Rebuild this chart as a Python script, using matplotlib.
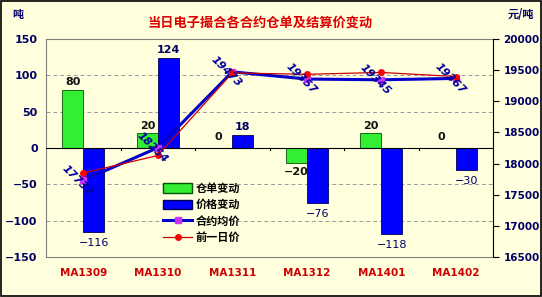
import matplotlib
matplotlib.use("Agg")
import matplotlib.pyplot as plt
import numpy as np
from matplotlib.patches import Patch
from matplotlib.lines import Line2D

plt.rcParams['font.family'] = ['DejaVu Sans', 'Noto Sans CJK SC']

categories = ["MA1309", "MA1310", "MA1311", "MA1312", "MA1401", "MA1402"]
warrant_change = [80, 20, 0, -20, 20, 0]
price_change = [-116, 124, 18, -76, -118, -30]
avg_price = [17732, 18254, 19473, 19357, 19345, 19367]
prev_price = [17848, 18130, 19455, 19433, 19463, 19397]

BG = '#FFFFDD'
NAVY = '#000066'

fig = plt.figure(figsize=(5.42, 2.97), dpi=100, facecolor=BG)
fig.patches.append(plt.Rectangle((0.001, 0.002), 0.997, 0.995, transform=fig.transFigure,
                                 fill=False, edgecolor='black', linewidth=1.2))
ax = fig.add_axes([0.0849, 0.1347, 0.9096 - 0.0849, 0.8687 - 0.1347])
ax.set_facecolor(BG)
x = np.arange(len(categories))
w = 0.28

gb = ax.bar(x - w / 2, warrant_change, w, color='#33EE33', edgecolor='#005500', linewidth=0.6, zorder=3)
bb = ax.bar(x + w / 2, price_change, w, color='#0000FF', edgecolor='#000055', linewidth=0.6, zorder=3)

ax.set_xlim(-0.5, len(categories) - 0.5)
ax.set_ylim(-150, 150)
yt = [-150, -100, -50, 0, 50, 100, 150]
ax.set_yticks(yt)
for v in [100, 50, -50, -100]:
    ax.axhline(v, color='#999999', linestyle=(0, (4, 3)), linewidth=0.7, zorder=1)
ax.axhline(0, color='black', linewidth=0.8, zorder=4)
for b in np.arange(0.5, len(categories) - 0.5, 1.0):
    ax.plot([b, b], [0, -3], color='black', linewidth=0.8, zorder=4, clip_on=False)

ax.set_xticks(x)
ax.set_xticklabels(categories, color='#CC0000', fontweight='bold', fontsize=7.5)
ax.tick_params(axis='x', length=0, pad=8)
ax.tick_params(axis='y', length=0, colors=NAVY, labelsize=8, pad=6)
ax.set_yticklabels([str(v).replace('-', '\u2212') for v in yt], fontweight='bold', color=NAVY)
for s in ['top', 'bottom', 'left']:
    ax.spines[s].set_color('#808080')
    ax.spines[s].set_linewidth(0.8)
ax.spines['right'].set_visible(False)

# bar labels
for i, v in enumerate(warrant_change):
    if v > 0:
        ax.text(x[i] - w / 2, v + 4, str(v), ha='center', va='bottom', fontsize=8, fontweight='bold', color='#111111', zorder=5)
    elif v < 0:
        ax.text(x[i] - w / 2, v - 6, '\u2212' + str(-v), ha='center', va='top', fontsize=8, fontweight='bold', color='#111111', zorder=5)
    else:
        ax.text(x[i] - w / 2 - 0.05, 8, '0', ha='center', va='bottom', fontsize=8, fontweight='bold', color='#111111', zorder=5)
for i, v in enumerate(price_change):
    if v >= 0:
        ax.text(x[i] + w / 2, v + 4, str(v), ha='center', va='bottom', fontsize=8, fontweight='bold', color=NAVY, zorder=5)
    else:
        ax.text(x[i] + w / 2, v - 8, '\u2212' + str(-v), ha='center', va='top', fontsize=8, color=NAVY, zorder=5)

ax2 = ax.twinx()
ax2.set_ylim(16500, 20000)
ax2.set_yticks(np.arange(16500, 20001, 500))
ax2.tick_params(axis='y', colors=NAVY, labelsize=7.5, length=4, direction='out', color='black')
for lab in ax2.get_yticklabels():
    lab.set_fontweight('bold')
ax2.spines['right'].set_color('black')
ax2.spines['right'].set_linewidth(0.8)
for s in ['top', 'bottom', 'left']:
    ax2.spines[s].set_visible(False)

ax2.plot(x, avg_price, color='#0000CC', linewidth=2.2, marker='s', markersize=4,
         markerfacecolor='#CC33FF', markeredgecolor='#CC33FF', zorder=5)
ax2.plot(x, prev_price, color='#CC0000', linewidth=0.9, marker='o', markersize=4,
         markerfacecolor='#FF0000', markeredgecolor='#FF0000', zorder=6)
for i, v in enumerate(avg_price):
    ax2.annotate(str(v), (x[i], v), xytext=(-4, 0), textcoords='offset points',
                 rotation=-45, ha='center', va='center', fontsize=8, fontweight='bold',
                 fontstyle='italic', color='#000099', zorder=7)

handles = [Patch(facecolor='#33EE33', edgecolor='#005500'),
           Patch(facecolor='#0000FF', edgecolor='#000055'),
           Line2D([0], [0], color='#0000CC', linewidth=2.2, marker='s', markersize=4,
                  markerfacecolor='#CC33FF', markeredgecolor='#CC33FF'),
           Line2D([0], [0], color='#CC0000', linewidth=0.9, marker='o', markersize=4,
                  markerfacecolor='#FF0000', markeredgecolor='#FF0000')]
labels = ['仓单变动', '价格变动', '合约均价', '前一日价']
leg = ax2.legend(handles, labels, loc='upper left', bbox_to_anchor=(0.262, 0.345),
                 frameon=False, prop={'family': ['Noto Sans CJK SC'], 'size': 8, 'weight': 'bold'},
                 handlelength=2.6, handleheight=0.9, labelspacing=0.3, borderaxespad=0,
                 handletextpad=0.3, borderpad=0)

fig.text(0.48, 0.925, '当日电子撮合各合约仓单及结算价变动', ha='center', va='center',
         color='#DD0000', fontsize=9.5, fontweight='bold', family=['Noto Sans CJK SC'])
fig.text(0.022, 0.95, '吨', ha='left', va='center', color=NAVY, fontsize=8, fontweight='bold',
         family=['Noto Sans CJK SC'])
fig.text(0.985, 0.95, '元/吨', ha='right', va='center', color=NAVY, fontsize=8, fontweight='bold',
         family=['Noto Sans CJK SC'])

fig.savefig('out.png', dpi=100, facecolor=BG)
